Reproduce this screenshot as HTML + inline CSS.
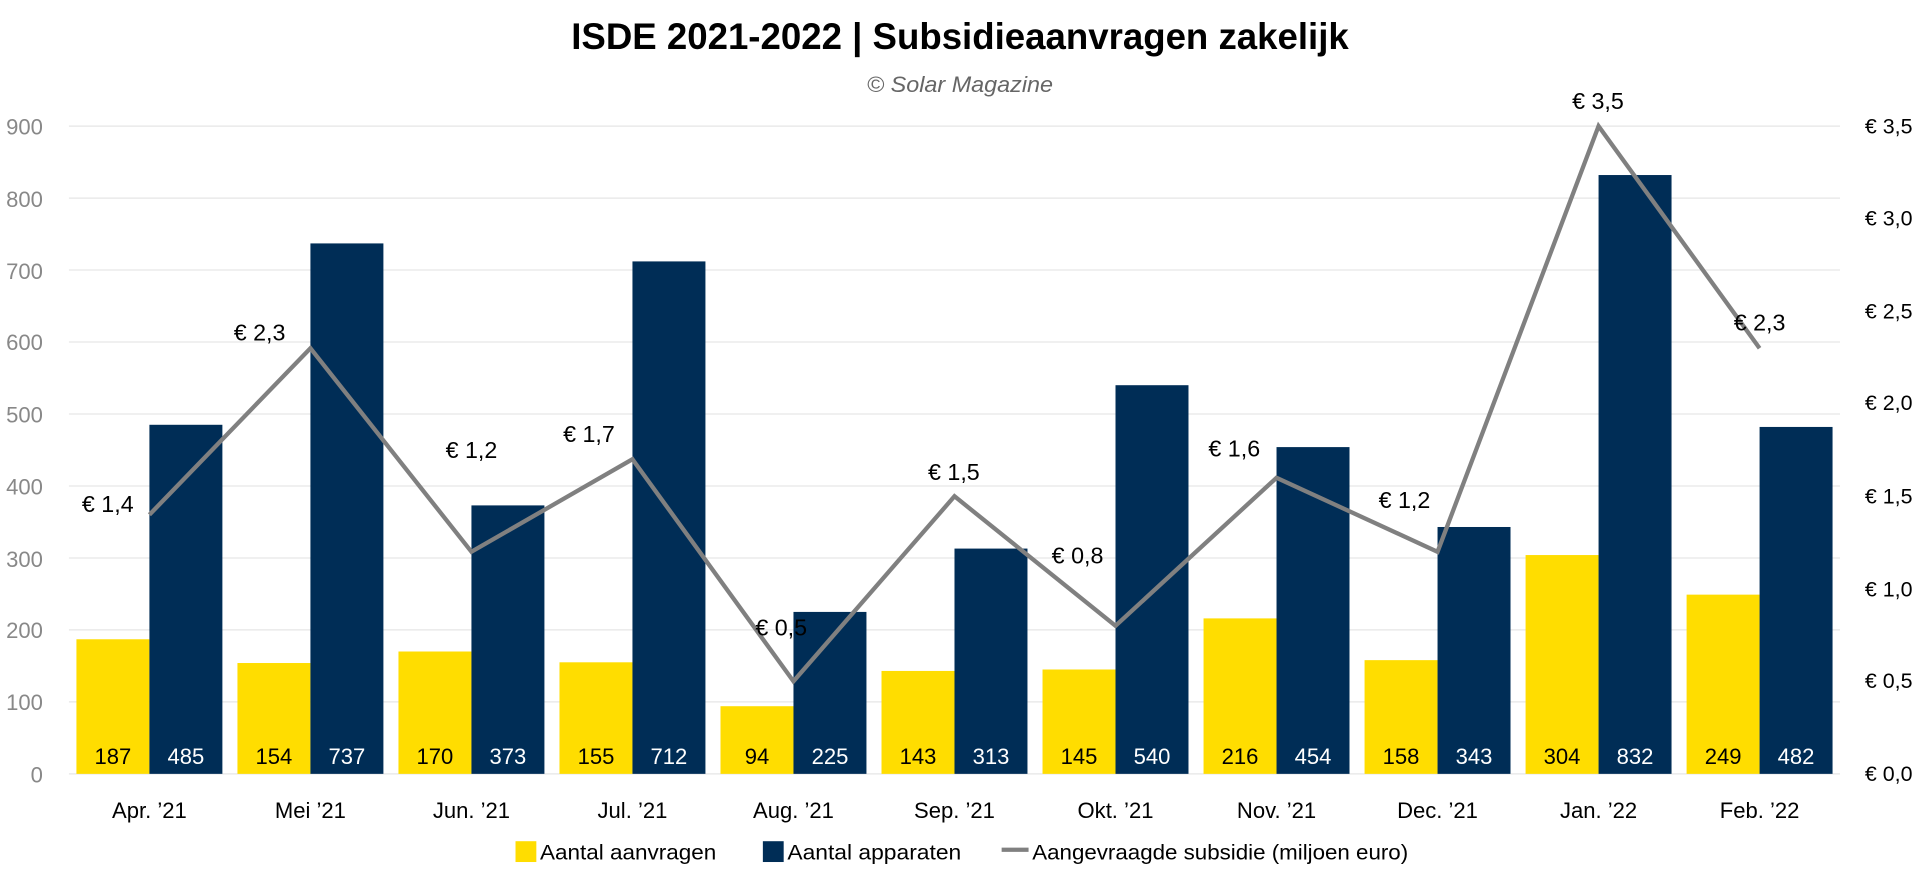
<!DOCTYPE html>
<html><head><meta charset="utf-8"><style>html,body{margin:0;padding:0;background:#fff}svg{display:block}</style></head>
<body>
<svg width="1920" height="881" viewBox="0 0 1568 719.5" xmlns="http://www.w3.org/2000/svg" font-family="'Liberation Sans Narrow','Liberation Sans',sans-serif">
<text x="784" y="40" text-anchor="middle" font-size="30" font-weight="bold" textLength="635" lengthAdjust="spacingAndGlyphs">ISDE 2021-2022 | Subsidieaanvragen zakelijk</text>
<text x="784" y="75" text-anchor="middle" font-size="18" font-style="italic" fill="#666" textLength="152" lengthAdjust="spacingAndGlyphs">© Solar Magazine</text>
<g stroke="#e6e6e6" stroke-width="1">
<line x1="56.3" x2="1502.7" y1="632" y2="632"/><line x1="56.3" x2="1502.7" y1="573.2" y2="573.2"/><line x1="56.3" x2="1502.7" y1="514.4" y2="514.4"/><line x1="56.3" x2="1502.7" y1="455.7" y2="455.7"/><line x1="56.3" x2="1502.7" y1="396.9" y2="396.9"/><line x1="56.3" x2="1502.7" y1="338.1" y2="338.1"/><line x1="56.3" x2="1502.7" y1="279.3" y2="279.3"/><line x1="56.3" x2="1502.7" y1="220.5" y2="220.5"/><line x1="56.3" x2="1502.7" y1="161.8" y2="161.8"/><line x1="56.3" x2="1502.7" y1="103" y2="103"/>
</g>
<g font-size="18" fill="#888" text-anchor="end">
<text x="35" y="639">0</text><text x="35" y="580">100</text><text x="35" y="521">200</text><text x="35" y="463">300</text><text x="35" y="404">400</text><text x="35" y="345">500</text><text x="35" y="286">600</text><text x="35" y="228">700</text><text x="35" y="169">800</text><text x="35" y="110">900</text>
</g>
<g font-size="17.5" fill="#000">
<text x="1523" y="638">€ 0,0</text><text x="1523" y="562">€ 0,5</text><text x="1523" y="487">€ 1,0</text><text x="1523" y="411">€ 1,5</text><text x="1523" y="335">€ 2,0</text><text x="1523" y="260">€ 2,5</text><text x="1523" y="184">€ 3,0</text><text x="1523" y="109">€ 3,5</text>
</g>
<g id="bars"></g>
<g font-size="18" text-anchor="middle" id="cats"></g>
<polyline id="ln" fill="none" stroke="#808080" stroke-width="3.5" stroke-linejoin="miter"/>
<g font-size="19" text-anchor="middle" id="lbl"></g>
<rect x="421" y="687" width="17" height="17" fill="#FFDD00"/>
<text x="441" y="702" font-size="17" textLength="144" lengthAdjust="spacingAndGlyphs">Aantal aanvragen</text>
<rect x="623" y="687" width="17" height="17" fill="#002D56"/>
<text x="643" y="702" font-size="17" textLength="142" lengthAdjust="spacingAndGlyphs">Aantal apparaten</text>
<line x1="818" x2="840" y1="694" y2="694" stroke="#808080" stroke-width="3.5"/>
<text x="843" y="702" font-size="17" textLength="307" lengthAdjust="spacingAndGlyphs">Aangevraagde subsidie (miljoen euro)</text>
<script>
var y1=[187,154,170,155,94,143,145,216,158,304,249],y2=[485,737,373,712,225,313,540,454,343,832,482],
s=[1.4,2.3,1.2,1.7,0.5,1.5,0.8,1.6,1.2,3.5,2.3],
c=["Apr. ’21","Mei ’21","Jun. ’21","Jul. ’21","Aug. ’21","Sep. ’21","Okt. ’21","Nov. ’21","Dec. ’21","Jan. ’22","Feb. ’22"],
L=[[88,418],[212,278],[385,374],[481,361],[638,519],[779,392],[880,460],[1008,373],[1147,415],[1305,89],[1437,270]];
var ns="http://www.w3.org/2000/svg",b=document.getElementById("bars"),ca=document.getElementById("cats"),lb=document.getElementById("lbl"),pts=[];
function el(p,t,a,tx){var e=document.createElementNS(ns,t);for(var k in a)e.setAttribute(k,a[k]);if(tx)e.textContent=tx;p.appendChild(e);}
for(var i=0;i<11;i++){var x=122+131.5*i,w=59.6,h1=y1[i]*0.5878,h2=y2[i]*0.5878;
el(b,"rect",{x:x-w,y:632-h1,width:w,height:h1,fill:"#FFDD00"});
el(b,"rect",{x:x,y:632-h2,width:w,height:h2,fill:"#002D56"});
el(b,"text",{x:x-w/2,y:624,"font-size":18,"text-anchor":"middle",fill:"#000"},String(y1[i]));
el(b,"text",{x:x+w/2,y:624,"font-size":18,"text-anchor":"middle",fill:"#fff"},String(y2[i]));
el(ca,"text",{x:x,y:668},c[i]);
pts.push(x+","+(632-s[i]*151.14));
el(lb,"text",{x:L[i][0],y:L[i][1]},"€ "+String(s[i]).replace(".",","));}
document.getElementById("ln").setAttribute("points",pts.join(" "));
</script>
</svg>
</body></html>
